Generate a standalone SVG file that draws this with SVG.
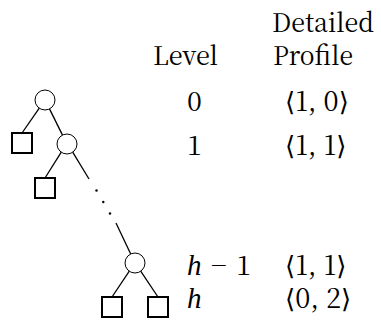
<svg xmlns="http://www.w3.org/2000/svg" width="381" height="326" viewBox="0 0 381 326">
  <style>
    .inner { fill: #ffffff; stroke: #000000; stroke-width: 1; }
    .leaf { fill: #ffffff; stroke: #000000; stroke-width: 2; }
    .edge { stroke: #000000; stroke-width: 1.3; fill: none; }
    .dot { fill: #000000; }
    .lbl { font-family: 'Noto Serif CJK SC', 'Liberation Serif', serif; font-size: 27px; fill: #000000; }
    .head { font-size: 26px; }
    .math { font-family: 'Liberation Serif', serif; font-style: italic; font-size: 29px; }
    .br { font-family: 'DejaVu Serif', serif; font-size: 26px; }
  </style>
  <rect width="381" height="326" fill="#ffffff"/>

  <!-- tree edges -->
  <g id="edges">
    <line class="edge" x1="39.3" y1="108.2" x2="22" y2="133"/>
    <line class="edge" x1="49.5" y1="108.9" x2="62.5" y2="135.1"/>
    <line class="edge" x1="61.3" y1="152.2" x2="45" y2="178"/>
    <line class="edge" x1="72.7" y1="152.2" x2="89" y2="179"/>
    <circle class="dot" cx="96.5" cy="190.5" r="1.2"/>
    <circle class="dot" cx="103.3" cy="202" r="1.2"/>
    <circle class="dot" cx="110" cy="213.5" r="1.2"/>
    <line class="edge" x1="116" y1="223" x2="130.7" y2="254"/>
    <line class="edge" x1="129.3" y1="271.2" x2="112" y2="297"/>
    <line class="edge" x1="140.7" y1="271.2" x2="158" y2="297"/>
  </g>

  <!-- internal nodes -->
  <g id="n0"><circle class="inner" cx="45" cy="100" r="10"/></g>
  <g id="n1"><circle class="inner" cx="67" cy="144" r="10"/></g>
  <g id="nh1"><circle class="inner" cx="135" cy="263" r="10"/></g>

  <!-- leaves -->
  <g id="leaf0"><rect class="leaf" x="12" y="133" width="20" height="20"/></g>
  <g id="leaf1"><rect class="leaf" x="35" y="178" width="20" height="20"/></g>
  <g id="leafh1"><rect class="leaf" x="102" y="297" width="20" height="20"/></g>
  <g id="leafh2"><rect class="leaf" x="148" y="297" width="20" height="20"/></g>

  <!-- column headings -->
  <g id="headings" class="lbl head">
    <text x="272" y="32" textLength="102" lengthAdjust="spacingAndGlyphs">Detailed</text>
    <text x="153" y="65" textLength="65" lengthAdjust="spacingAndGlyphs">Level</text>
    <text x="273" y="65" textLength="80" lengthAdjust="spacingAndGlyphs">Profile</text>
  </g>

  <!-- level / profile rows -->
  <g id="rows" class="lbl">
    <text x="187" y="111">0</text>
    <text x="285" y="111"><tspan class="br">⟨</tspan>1, 0<tspan class="br">⟩</tspan></text>
    <text x="187" y="155">1</text>
    <text x="285" y="155"><tspan class="br">⟨</tspan>1, 1<tspan class="br">⟩</tspan></text>
    <text x="187" y="275" textLength="64" lengthAdjust="spacing"><tspan class="math">h</tspan> − 1</text>
    <text x="285" y="275"><tspan class="br">⟨</tspan>1, 1<tspan class="br">⟩</tspan></text>
    <text x="187" y="308" class="math">h</text>
    <text x="285" y="308"><tspan class="br">⟨</tspan>0, 2<tspan class="br">⟩</tspan></text>
  </g>
</svg>
